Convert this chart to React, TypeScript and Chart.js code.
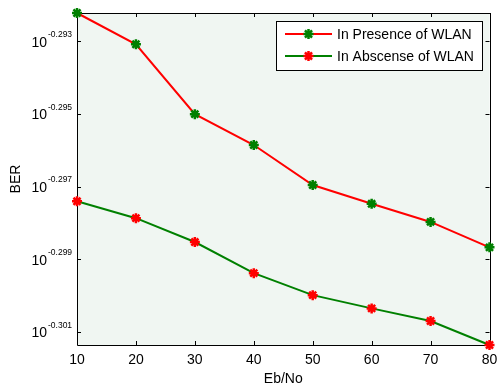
import React, { useEffect, useRef } from 'react';
import { Chart, registerables } from 'chart.js';

Chart.register(...registerables);

const ebNo = [10, 20, 30, 40, 50, 60, 70, 80];
const berWithWlan = [0.51024, 0.50923, 0.50698, 0.50599, 0.50471, 0.50411, 0.50353, 0.50272];
const berWithoutWlan = [0.50419, 0.50365, 0.50289, 0.5019, 0.5012, 0.50078, 0.50038, 0.49962];
const yTickExponents = ['-0.293', '-0.295', '-0.297', '-0.299', '-0.301'];
const seriesLabels = ['In Presence of WLAN', 'In Abscense of WLAN'];

const FONT = '"Liberation Sans", Arial, sans-serif';
const RED = '#ff0000';
const GREEN = '#008000';
const PLOT_BG = '#f0f6f2';

function drawStar(ctx: CanvasRenderingContext2D, x: number, y: number, r: number, color: string, lw: number) {
  ctx.save();
  ctx.strokeStyle = color;
  ctx.lineWidth = lw;
  ctx.beginPath();
  for (let i = 0; i < 4; i++) {
    const a = (i * Math.PI) / 4;
    ctx.moveTo(x - r * Math.cos(a), y - r * Math.sin(a));
    ctx.lineTo(x + r * Math.cos(a), y + r * Math.sin(a));
  }
  ctx.stroke();
  ctx.restore();
}

const framePlugin = {
  id: 'frame',
  beforeDraw(chart: any) {
    const { ctx, chartArea: a } = chart;
    ctx.save();
    ctx.fillStyle = PLOT_BG;
    ctx.fillRect(a.left, a.top, a.right - a.left, a.bottom - a.top);
    ctx.restore();
  },
  beforeDatasetsDraw(chart: any) {
    const { ctx, chartArea: a, scales } = chart;
    const xs = scales.x;
    const ys = scales.y;
    ctx.save();
    ctx.strokeStyle = '#000';
    ctx.lineWidth = 1;
    ctx.beginPath();
    ctx.rect(Math.round(a.left) + 0.5, Math.round(a.top) + 0.5, Math.round(a.right - a.left), Math.round(a.bottom - a.top));
    ctx.stroke();
    const tl = 4;
    ctx.beginPath();
    ebNo.forEach((v) => {
      const px = Math.round(xs.getPixelForValue(v)) + 0.5;
      ctx.moveTo(px, a.bottom);
      ctx.lineTo(px, a.bottom - tl);
      ctx.moveTo(px, a.top);
      ctx.lineTo(px, a.top + tl);
    });
    yTickExponents.forEach((e) => {
      const py = Math.round(ys.getPixelForValue(Math.pow(10, parseFloat(e)))) + 0.5;
      ctx.moveTo(a.left, py);
      ctx.lineTo(a.left + tl, py);
      ctx.moveTo(a.right, py);
      ctx.lineTo(a.right - tl, py);
    });
    ctx.stroke();
    ctx.restore();
  },
  afterDraw(chart: any) {
    const { ctx, chartArea: a, scales } = chart;
    const ys = scales.y;
    ctx.save();
    ctx.fillStyle = '#000';
    yTickExponents.forEach((e) => {
      const py = ys.getPixelForValue(Math.pow(10, parseFloat(e)));
      ctx.font = `14px ${FONT}`;
      ctx.textAlign = 'right';
      ctx.textBaseline = 'middle';
      ctx.fillText('10', a.left - 30, py + 1.5);
      ctx.font = `8.5px ${FONT}`;
      ctx.textAlign = 'left';
      ctx.fillText(e, a.left - 29, py - 6.5);
    });
    const bx = 276.5, by = 21.5, bw = 206, bh = 49;
    ctx.fillStyle = '#fff';
    ctx.fillRect(bx, by, bw, bh);
    ctx.strokeStyle = '#000';
    ctx.lineWidth = 1;
    ctx.strokeRect(bx, by, bw, bh);
    const rows = [
      { y: 34, line: RED, mark: GREEN, text: seriesLabels[0] },
      { y: 56, line: GREEN, mark: RED, text: seriesLabels[1] },
    ];
    rows.forEach((r) => {
      ctx.strokeStyle = r.line;
      ctx.lineWidth = 2;
      ctx.beginPath();
      ctx.moveTo(285, r.y);
      ctx.lineTo(332, r.y);
      ctx.stroke();
      drawStar(ctx, 308.5, r.y, 5, r.mark, 2.5);
      ctx.fillStyle = '#000';
      ctx.font = `14px ${FONT}`;
      ctx.textAlign = 'left';
      ctx.textBaseline = 'middle';
      ctx.fillText(r.text, 337, r.y + 1.5);
    });
    ctx.restore();
  },
};

export default function App() {
  const canvasRef = useRef<HTMLCanvasElement | null>(null);

  useEffect(() => {
    if (!canvasRef.current) return;
    const chart = new Chart(canvasRef.current, {
      type: 'line',
      data: {
        labels: ebNo,
        datasets: [
          {
            label: seriesLabels[0],
            data: ebNo.map((x, i) => ({ x, y: berWithWlan[i] })),
            borderColor: RED,
            borderWidth: 2,
            pointStyle: 'star',
            pointRadius: 5,
            pointBorderWidth: 2.5,
            pointBorderColor: GREEN,
            pointBackgroundColor: GREEN,
            clip: false as any,
            tension: 0,
          },
          {
            label: seriesLabels[1],
            data: ebNo.map((x, i) => ({ x, y: berWithoutWlan[i] })),
            borderColor: GREEN,
            borderWidth: 2,
            pointStyle: 'star',
            pointRadius: 5,
            pointBorderWidth: 2.5,
            pointBorderColor: RED,
            pointBackgroundColor: RED,
            clip: false as any,
            tension: 0,
          },
        ],
      },
      options: {
        animation: false,
        responsive: true,
        maintainAspectRatio: false,
        layout: { padding: { top: 13, right: 5, left: 0, bottom: 0 } },
        plugins: { legend: { display: false }, tooltip: { enabled: false } },
        scales: {
          x: {
            type: 'linear',
            min: 10,
            max: 80,
            grid: { display: false, drawTicks: false },
            border: { display: false },
            ticks: {
              stepSize: 10,
              padding: 7,
              color: '#000',
              font: { family: FONT, size: 14 },
              maxRotation: 0,
            },
            title: {
              display: true,
              text: 'Eb/No',
              color: '#000',
              font: { family: FONT, size: 14 },
              padding: { top: 0, bottom: 0 },
            },
            afterFit: (s: any) => {
              s.height = 43;
              s.paddingLeft = 0;
              s.paddingRight = 0;
            },
          },
          y: {
            type: 'logarithmic',
            bounds: 'data',
            min: Math.min(...berWithoutWlan),
            max: Math.max(...berWithWlan),
            grid: { display: false, drawTicks: false },
            border: { display: false },
            ticks: { display: false },
            afterBuildTicks: (s: any) => {
              s.ticks = yTickExponents.map((e) => ({ value: Math.pow(10, parseFloat(e)) }));
            },
            title: {
              display: true,
              text: 'BER',
              color: '#000',
              font: { family: FONT, size: 14 },
              padding: { top: 8, bottom: 0 },
            },
            afterFit: (s: any) => {
              s.width = 77;
              s.paddingTop = 0;
              s.paddingBottom = 0;
            },
          },
        },
      } as any,
      plugins: [framePlugin],
    });
    return () => chart.destroy();
  }, []);

  return (
    <div style={{ position: 'fixed', left: 0, top: 0, width: 497, height: 388, background: '#fff' }}>
      <canvas ref={canvasRef} />
    </div>
  );
}
